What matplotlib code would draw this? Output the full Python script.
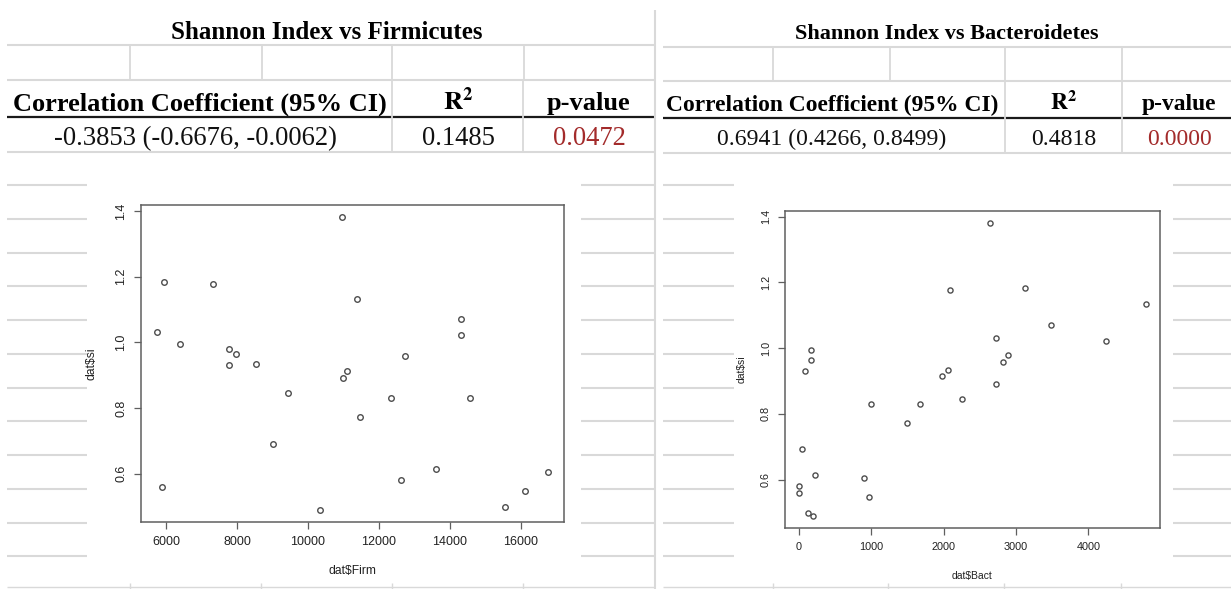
import matplotlib
matplotlib.use("Agg")
import matplotlib.pyplot as plt
from matplotlib.ticker import FormatStrFormatter

plt.rcParams['font.family'] = ['Liberation Sans', 'DejaVu Sans']
plt.rcParams['mathtext.fontset'] = 'stix'

# Shannon index per sample, with its Firmicutes and Bacteroidetes counts
si = [0.489, 0.498, 0.547, 0.559, 0.581, 0.604, 0.615, 0.692, 0.773, 0.830,
      0.830, 0.846, 0.890, 0.914, 0.930, 0.933, 0.957, 0.965, 0.979, 0.995,
      1.022, 1.032, 1.070, 1.133, 1.177, 1.183, 1.382]
firm = [10330, 15547, 16132, 5877, 12613, 16783, 13613, 9009, 11472, 12330,
        14576, 9425, 11000, 11113, 7755, 8538, 12745, 7962, 7755, 6387,
        14321, 5726, 14321, 11368, 7311, 5925, 10962]
bact = [198, 125, 969, 0, 5, 900, 221, 46, 1495, 992,
        1675, 2256, 2731, 1975, 78, 2058, 2824, 171, 2884, 171,
        4249, 2731, 3488, 4799, 2090, 3124, 2639]

titles = ["Shannon Index vs Firmicutes", "Shannon Index vs Bacteroidetes"]
corr_ci = ["-0.3853 (-0.6676, -0.0062)", "0.6941 (0.4266, 0.8499)"]
r2 = ["0.1485", "0.4818"]
pval = ["0.0472", "0.0000"]
xlabels = ["dat$Firm", "dat$Bact"]
xticks = [[6000, 8000, 10000, 12000, 14000, 16000], [0, 1000, 2000, 3000, 4000]]
yticks = [0.6, 0.8, 1.0, 1.2, 1.4]

W, H = 1231, 589
fig = plt.figure(figsize=(W / 100, H / 100), dpi=100)

# sheet background drawn in pixel coords
bg = fig.add_axes([0, 0, 1, 1])
bg.set_xlim(0, W)
bg.set_ylim(H, 0)
bg.axis('off')

grid = '#d9d9d9'


def hline(y, x0, x1, c=grid, lw=1.5):
    bg.plot([x0, x1], [y, y], color=c, lw=lw, solid_capstyle='butt')


def vline(x, y0, y1, c=grid, lw=1.3):
    bg.plot([x, x], [y0, y1], color=c, lw=lw, solid_capstyle='butt')


panels = [
    dict(x0=7, x1=655, rows=(45, 80, 117, 152), top_cols=(130, 262, 392, 524),
         body_cols=(392, 523), s=1.0, c_title=327, c_hdr=200, c_val=195,
         c_r2=458, c_p=589),
    dict(x0=663, x1=1231, rows=(47, 81, 118, 153), top_cols=(773, 890, 1005, 1122),
         body_cols=(1005, 1122), s=0.89, c_title=947, c_hdr=832, c_val=832,
         c_r2=1064, c_p=1179),
]

serif = ['Liberation Serif', 'DejaVu Serif']
for i, p in enumerate(panels):
    r = p['rows']
    hline(r[0], p['x0'], p['x1'])
    hline(r[1], p['x0'], p['x1'])
    hline(r[2], p['x0'], p['x1'], c='#1a1a1a', lw=1.6)
    hline(r[3], p['x0'], p['x1'])
    for x in p['top_cols']:
        vline(x, r[0], r[1])
    for x in p['body_cols']:
        vline(x, r[1], r[3])
    s = p['s']
    bg.text(p['c_title'], 39, titles[i], family=serif, weight='bold',
            fontsize=18 * s, ha='center', va='baseline')
    bg.text(p['c_hdr'], 111, "Correlation Coefficient (95% CI)", family=serif,
            weight='bold', fontsize=19 * s, ha='center', va='baseline')
    bg.text(p['c_r2'], 110, r'$\mathbf{R}^{\mathbf{2}}$', fontsize=19 * s,
            ha='center', va='baseline')
    bg.text(p['c_p'], 110, "p-value", family=serif, weight='bold',
            fontsize=19 * s, ha='center', va='baseline')
    bg.text(p['c_val'], 145, corr_ci[i], family=serif, fontsize=19.2 * s,
            ha='center', va='baseline', color='#111')
    bg.text(p['c_r2'], 145, r2[i], family=serif, fontsize=19.2 * s,
            ha='center', va='baseline', color='#111')
    bg.text(p['c_p'], 145, pval[i], family=serif, fontsize=19.2 * s,
            ha='center', va='baseline', color='#a32b2b')

# divider between the two sheets
vline(655, 10, H, lw=1.5)

# spreadsheet rows showing around the pasted plots
for k in range(12):
    y = 185 + 33.75 * k
    for x0, x1 in [(7, 87), (581, 655), (663, 734), (1173, 1231)]:
        hline(y, x0, x1)
hline(587, 7, 655, lw=1.0)
hline(587, 663, W, lw=1.0)
for x in (130, 261, 392, 523, 773, 888, 1004, 1121):
    vline(x, 583, H, lw=1.0)

# the two R scatter plots
boxes = [(141, 564, 205, 522), (785, 1160, 211, 527.7)]
xs = [firm, bact]
sizes = [9, 7.8]
msizes = [4.0, 3.7]
ylab_x = [-0.102, -0.103]
xlab_y = [-0.136, -0.136]
for i in range(2):
    l, rr, t, b = boxes[i]
    ax = fig.add_axes([l / W, 1 - b / H, (rr - l) / W, (b - t) / H])
    ax.plot(xs[i], si, 'o', mfc='none', mec='#4d4d4d', ms=msizes[i], mew=1.0)
    ax.margins(0.04)
    ax.set_xticks(xticks[i])
    ax.set_yticks(yticks)
    ax.yaxis.set_major_formatter(FormatStrFormatter('%.1f'))
    for sp in ax.spines.values():
        sp.set_color('#5f5f5f')
        sp.set_linewidth(1.1)
    ax.tick_params(direction='out', length=5, width=0.9, color='#5f5f5f',
                   labelsize=sizes[i], labelcolor='#222222', pad=5)
    ax.tick_params(axis='y', labelrotation=90)
    for lab in ax.get_yticklabels():
        lab.set_va('center')
    ax.set_xlabel(xlabels[i], fontsize=sizes[i] - 0.3, color='#222222')
    ax.set_ylabel('dat$si', fontsize=sizes[i] - 0.3, color='#222222')
    ax.xaxis.set_label_coords(0.5, xlab_y[i])
    ax.yaxis.set_label_coords(ylab_x[i], 0.5)

fig.savefig('out.png', dpi=100)
